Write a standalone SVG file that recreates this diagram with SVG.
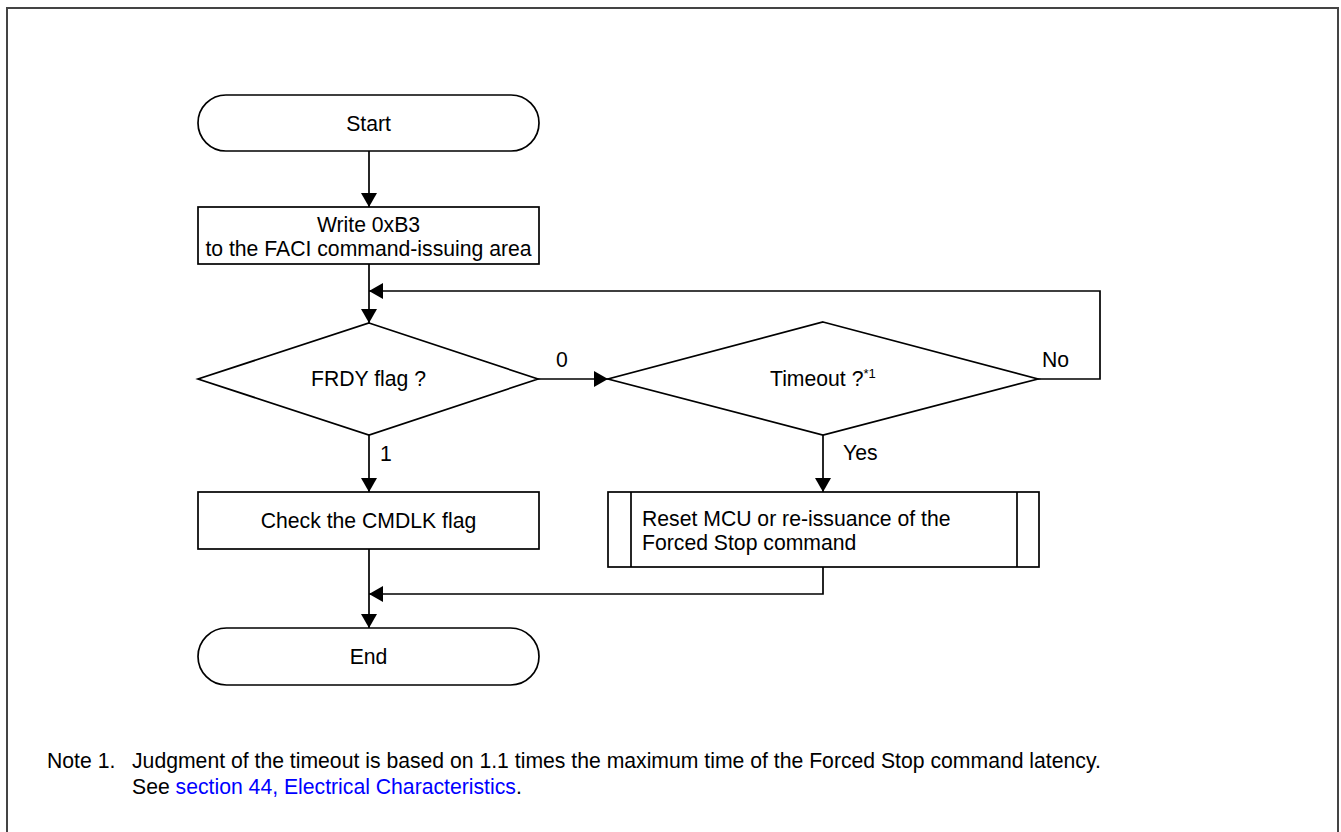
<svg xmlns="http://www.w3.org/2000/svg" width="1341" height="832" viewBox="0 0 1341 832">
<defs>
<style>
.s{fill:#fff;stroke:#000;stroke-width:1.7}
.c{fill:none;stroke:#000;stroke-width:1.7}
text{font-family:"Liberation Sans",Arial,sans-serif;font-size:21.2px;fill:#000}
.m{text-anchor:middle}
.lnk{fill:#0000ff}
</style>
<marker id="ah" viewBox="0 0 14 16" refX="14" refY="8" markerWidth="14" markerHeight="16" markerUnits="userSpaceOnUse" orient="auto">
<path d="M0,0 L14,8 L0,16 Z" fill="#000"/>
</marker>
</defs>
<rect x="7" y="8" width="1331" height="840" fill="#fff" stroke="#444" stroke-width="2"/>
<g id="connectors">
<path class="c" d="M369,151 V207" marker-end="url(#ah)"/>
<path class="c" d="M369,264 V323" marker-end="url(#ah)"/>
<path class="c" d="M538,379 H608" marker-end="url(#ah)"/>
<path class="c" d="M1038,379 H1100 V291 H369" marker-end="url(#ah)"/>
<path class="c" d="M369,435 V492" marker-end="url(#ah)"/>
<path class="c" d="M823,435 V492" marker-end="url(#ah)"/>
<path class="c" d="M369,549 V628" marker-end="url(#ah)"/>
<path class="c" d="M823,567 V594 H369" marker-end="url(#ah)"/>
<text x="556" y="367">0</text>
<text x="380" y="461">1</text>
<text x="843" y="460">Yes</text>
<text x="1042" y="367">No</text>
</g>
<g id="start">
<rect class="s" x="198" y="95" width="341" height="56" rx="28" ry="28"/>
<text class="m" x="368.5" y="130.5">Start</text>
</g>
<g id="write">
<rect class="s" x="198" y="207" width="341" height="57"/>
<text class="m" x="368.5" y="231.5">Write 0xB3</text>
<text class="m" x="368.5" y="256">to the FACI command-issuing area</text>
</g>
<g id="frdy">
<polygon class="s" points="369,323 538,379 369,435 198,379"/>
<text class="m" x="368.5" y="385.5">FRDY flag ?</text>
</g>
<g id="timeout">
<polygon class="s" points="823,322 1038,379 823,435 608,379"/>
<text x="770" y="385.5">Timeout ?<tspan font-size="13" dy="-8">*1</tspan></text>
</g>
<g id="check">
<rect class="s" x="198" y="492" width="341" height="57"/>
<text class="m" x="368.5" y="527.5">Check the CMDLK flag</text>
</g>
<g id="reset">
<rect class="s" x="608" y="492" width="431" height="75"/>
<line class="c" x1="631" y1="492" x2="631" y2="567"/>
<line class="c" x1="1017" y1="492" x2="1017" y2="567"/>
<text x="642" y="526">Reset MCU or re-issuance of the</text>
<text x="642" y="549.5">Forced Stop command</text>
</g>
<g id="end">
<rect class="s" x="198" y="628" width="341" height="57" rx="28.5" ry="28.5"/>
<text class="m" x="368.5" y="663.5">End</text>
</g>
<g id="note">
<text x="47" y="767.5">Note 1.</text>
<text x="132" y="767.5">Judgment of the timeout is based on 1.1 times the maximum time of the Forced Stop command latency.</text>
<text x="132" y="793.5">See <tspan class="lnk">section 44, Electrical Characteristics</tspan>.</text>
</g>
</svg>
